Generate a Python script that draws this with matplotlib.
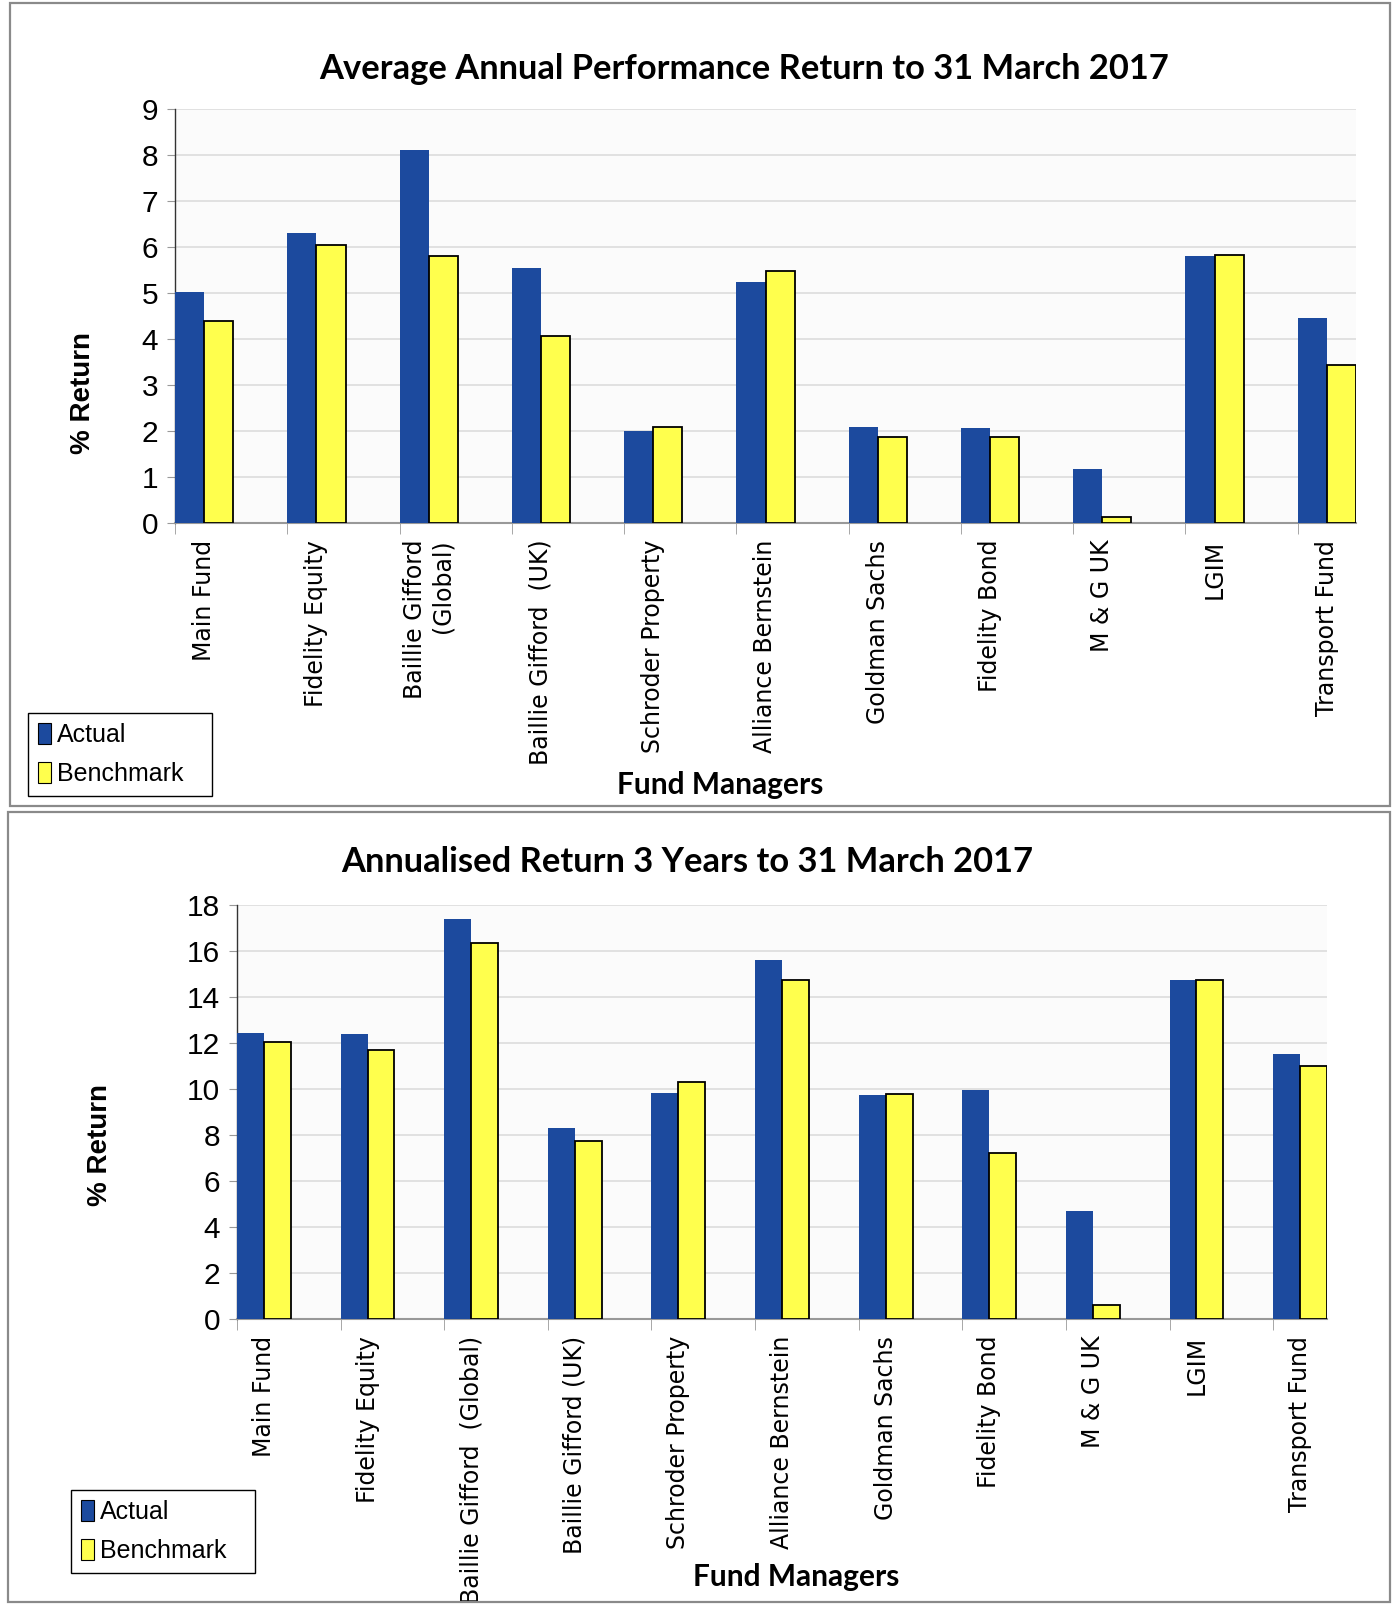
import matplotlib
matplotlib.use('Agg')
import matplotlib.pyplot as plt
import numpy as np
from matplotlib.patches import Rectangle, Patch

# data
funds_top = ['Main Fund', 'Fidelity Equity', 'Baillie Gifford\n(Global)', 'Baillie Gifford  (UK)',
             'Schroder Property', 'Alliance Bernstein', 'Goldman Sachs', 'Fidelity Bond',
             'M & G UK', 'LGIM', 'Transport Fund']
funds_bottom = ['Main Fund', 'Fidelity Equity', 'Baillie Gifford  (Global)', 'Baillie Gifford (UK)',
                'Schroder Property', 'Alliance Bernstein', 'Goldman Sachs', 'Fidelity Bond',
                'M & G UK', 'LGIM', 'Transport Fund']
actual_1y = [5.03, 6.30, 8.10, 5.54, 2.01, 5.25, 2.08, 2.07, 1.18, 5.80, 4.45]
bench_1y = [4.39, 6.04, 5.80, 4.06, 2.08, 5.47, 1.86, 1.86, 0.12, 5.82, 3.44]
actual_3y = [12.42, 12.38, 17.39, 8.32, 9.81, 15.60, 9.75, 9.94, 4.68, 14.75, 11.54]
bench_3y = [12.03, 11.71, 16.33, 7.75, 10.32, 14.72, 9.78, 7.22, 0.62, 14.75, 11.02]

BLUE = '#1c4a9e'
YELLOW = '#ffff4d'
W = 0.26
H_PX, W_PX = 1604, 1396

fig = plt.figure(figsize=(W_PX / 100, H_PX / 100), dpi=100)
fig.patch.set_facecolor('white')


def fx(px):
    return px / W_PX


def fy(px):
    return 1 - px / H_PX


def panel(top, bottom, left=10, right=1390):
    r = Rectangle((fx(left), fy(bottom)), fx(right) - fx(left), fy(top) - fy(bottom),
                  transform=fig.transFigure, fill=False, edgecolor='#8a8a8a', linewidth=1.6)
    fig.patches.append(r)


def draw_chart(rect, labels, actual, bench, ymax, ystep, title, title_xy, ylab_xy, xlab_xy, leg_box):
    l, t, r, b = rect
    ax = fig.add_axes([fx(l), fy(b), fx(r) - fx(l), fy(t) - fy(b)])
    ax.set_facecolor('#fbfbfb')
    x = np.arange(len(labels))
    ax.bar(x - W / 2, actual, W, color=BLUE, edgecolor='none', zorder=3)
    ax.bar(x + W / 2, bench, W, color=YELLOW, edgecolor='black', linewidth=1.3, zorder=3)
    ax.set_xlim(-W, len(labels) - 1 + W)
    ax.set_ylim(0, ymax)
    ax.set_yticks(np.arange(0, ymax + 0.1, ystep))
    ax.grid(axis='y', color='#dcdcdc', linewidth=1.2, zorder=0)
    for s in ['top', 'right']:
        ax.spines[s].set_visible(False)
    ax.spines['left'].set_color('#333333')
    ax.spines['left'].set_linewidth(1.0)
    ax.spines['bottom'].set_color('#999999')
    ax.spines['bottom'].set_linewidth(1.5)
    ax.tick_params(axis='y', length=6, color='#999999', labelsize=21.5, pad=6)
    for lab in ax.get_yticklabels():
        lab.set_family('Liberation Sans')
    ax.set_xticks(x)
    ax.set_xticklabels(labels, rotation=90, fontsize=17, family='DejaVu Sans',
                       va='top', ha='center', multialignment='right')
    ax.tick_params(axis='x', which='major', length=0, pad=12)
    ax.set_xticks(x - W, minor=True)
    ax.tick_params(axis='x', which='minor', length=8, color='#999999')

    fig.text(fx(title_xy[0]), fy(title_xy[1]), title, ha='center', va='center',
             fontsize=24.8, fontweight='bold', family='Lato')
    fig.text(fx(ylab_xy[0]), fy(ylab_xy[1]), '% Return', ha='center', va='center', rotation=90,
             fontsize=20, fontweight='bold', family='Liberation Sans')
    fig.text(fx(xlab_xy[0]), fy(xlab_xy[1]), 'Fund Managers', ha='center', va='center',
             fontsize=21.5, fontweight='bold', family='Lato')

    handles = [Patch(facecolor=BLUE, edgecolor='black', linewidth=0.8, label='Actual'),
               Patch(facecolor=YELLOW, edgecolor='black', linewidth=0.8, label='Benchmark')]
    lx0, ly0, lx1, ly1 = leg_box
    leg = fig.legend(handles=handles, loc='upper left', mode='expand',
                     bbox_to_anchor=(fx(lx0), fy(ly1), fx(lx1) - fx(lx0), fy(ly0) - fy(ly1)),
                     frameon=True, fancybox=False, edgecolor='black', framealpha=1,
                     prop={'family': ['Liberation Sans Narrow', 'Liberation Sans'], 'size': 18},
                     handlelength=0.5, handleheight=0.9, handletextpad=0.25,
                     labelspacing=0.6, borderpad=0.4, borderaxespad=0)
    leg.get_frame().set_linewidth(1.0)
    return ax


panel(3, 806)
panel(812, 1602, left=8)

draw_chart((175, 109, 1356, 523), funds_top, actual_1y, bench_1y, 9, 1,
           'Average Annual Performance Return to 31 March 2017',
           (744, 69), (83, 393), (720, 785), (28, 713, 212, 795))
draw_chart((237, 905, 1327, 1319), funds_bottom, actual_3y, bench_3y, 18, 2,
           'Annualised Return 3 Years to 31 March 2017',
           (687, 862), (100, 1145), (796, 1577), (71, 1490, 255, 1565))

plt.savefig('out.png', dpi=100, facecolor='white')
